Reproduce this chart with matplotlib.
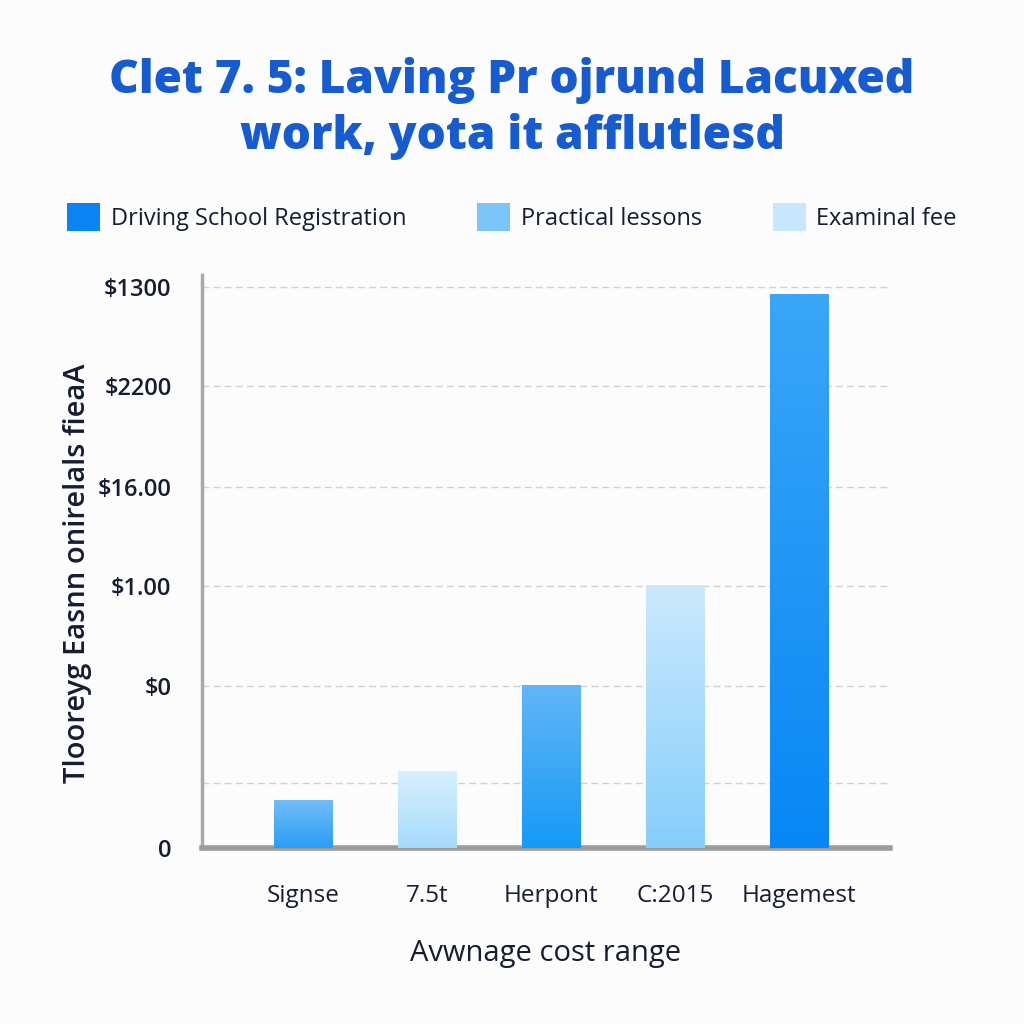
import numpy as np
import matplotlib
matplotlib.use("Agg")
import matplotlib.pyplot as plt
from matplotlib.patches import Patch
from matplotlib.colors import LinearSegmentedColormap

plt.rcParams['font.family'] = ['Open Sans', 'DejaVu Sans']

# data (units: 100 px above the baseline)
categories = ['Signse', '7.5t', 'Herpont', 'C:2015', 'Hagemest']
values = [0.48, 0.77, 1.63, 2.63, 5.54]
# gradient per bar: (top colour, bottom colour)
bar_grads = [('#72bdf6', '#2a9ef5'),
             ('#d8effd', '#a6dafb'),
             ('#62b6f7', '#159af6'),
             ('#cbe9fd', '#86cefb'),
             ('#3aa6f8', '#0787f5')]

ytick_pos = [0, 0.65, 1.62, 2.62, 3.61, 4.62, 5.61]
ytick_labels = ['0', '', '$0', '$1.00', '$16.00', '$2200', '$1300']

legend_labels = ['Driving School Registration', 'Practical lessons', 'Examinal fee']
legend_colors = ['#0a84f2', '#7cc5f9', '#c8e7fc']

title = 'Clet 7. 5: Laving Pr ojrund Lacuxed\nwork, yota it afflutlesd'
ylabel = 'Tlooreyg Easnn onirelals fieaA'
xlabel = 'Avwnage cost range'

text_col = '#151c33'
bg = '#fcfcfc'

fig = plt.figure(figsize=(10.24, 10.24), dpi=100, facecolor=bg)
ax = fig.add_axes([202 / 1024, 1 - 848 / 1024, 688 / 1024, 573 / 1024])
ax.set_facecolor(bg)

x = np.arange(len(categories))
bars = ax.bar(x, values, width=0.47, color='none', zorder=3)

# fill each bar with a vertical gradient, clipped to the bar
grad = np.linspace(0, 1, 256).reshape(-1, 1)
for b, (top, bot) in zip(bars, bar_grads):
    cmap = LinearSegmentedColormap.from_list('g', [bot, top])
    x0, y0 = b.get_x(), b.get_y()
    im = ax.imshow(grad, cmap=cmap, aspect='auto', origin='lower',
                   extent=[x0, x0 + b.get_width(), y0, y0 + b.get_height()], zorder=3)
    im.set_clip_path(b)

ax.set_xlim(-0.815, 4.73)
ax.set_ylim(0, 5.73)

ax.set_yticks(ytick_pos)
ax.set_yticklabels(ytick_labels, fontsize=17, color=text_col, fontweight='semibold')
ax.set_xticks(x)
ax.set_xticklabels(categories, fontsize=17.5, color=text_col)
ax.tick_params(axis='both', length=0)
ax.tick_params(axis='y', pad=22)
ax.tick_params(axis='x', pad=26)

ax.yaxis.grid(True, linestyle=(0, (5, 3)), color='#d0d0d0', linewidth=1, zorder=0)
ax.set_axisbelow(True)

for s in ['top', 'right']:
    ax.spines[s].set_visible(False)
ax.spines['left'].set_color('#a8a8a8')
ax.spines['left'].set_linewidth(2.5)
ax.spines['bottom'].set_color('#9c9c9c')
ax.spines['bottom'].set_linewidth(4)

ax.set_xlabel(xlabel, fontsize=21, color=text_col, labelpad=22)
ax.set_ylabel(ylabel, fontsize=21, color=text_col, fontweight='semibold')
ax.yaxis.set_label_coords(-0.16, 0.48)

fig.text(0.5, 1 - 108 / 1024, title, ha='center', va='center', fontsize=33,
         fontweight='heavy', color='#165bd0', linespacing=1.25)

handles = [Patch(facecolor=c, edgecolor='none') for c in legend_colors]
fig.legend(handles, legend_labels, loc='center', bbox_to_anchor=(0.5, 1 - 217 / 1024),
           ncol=3, frameon=False, fontsize=17, handlelength=1.4, handleheight=1.4,
           columnspacing=3.0, handletextpad=0.45, labelcolor=text_col)

fig.savefig('out.png', dpi=100, facecolor=bg)
